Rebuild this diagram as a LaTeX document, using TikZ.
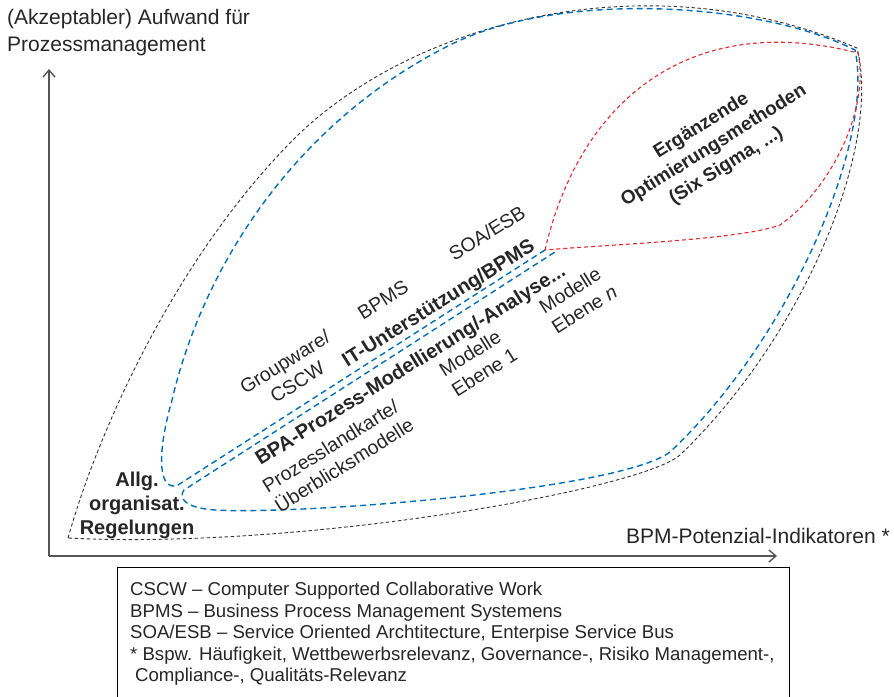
\documentclass[tikz,border=0pt]{standalone}
\usepackage{fontspec}
\setmainfont{Liberation Sans}
\usepackage{tikz}
\usetikzlibrary{arrows.meta}
\definecolor{AxisGray}{RGB}{85,85,85}
\definecolor{LensBlue}{RGB}{0,110,185}
\definecolor{LensRed}{RGB}{232,40,45}

\begin{document}
\begin{tikzpicture}[
        x=1pt, y=1pt,
        % --- STYLE ACHSEN ---
        axis/.style={
            draw=AxisGray,
            line width=1.4pt,
            -{Straight Barb[length=7pt,width=12pt]}
        },
        axislabel/.style={
            font=\fontsize{21}{27}\selectfont,
            inner sep=0pt,
            align=left,
            text=black!85
        },
        % --- STYLE LINSEN ---
        outerlens/.style={draw=black!80, line width=0.9pt, dash pattern=on 3.5pt off 2.5pt},
        bluelens/.style={draw=LensBlue, line width=1.4pt, dash pattern=on 6pt off 4pt},
        redlens/.style={draw=LensRed, line width=1.1pt, dash pattern=on 4pt off 3pt},
        % --- STYLE BESCHRIFTUNG ---
        plain/.style={
            font=\fontsize{19.5}{23.5}\selectfont,
            inner sep=0pt,
            align=center,
            text=black!85
        },
        lbl/.style={plain, rotate=32},
        lblbold/.style={lbl, font=\bfseries\fontsize{20}{24}\selectfont},
        % --- STYLE LEGENDE ---
        legendbox/.style={
            draw=black,
            line width=1pt,
            minimum width=672pt,
            minimum height=131pt,
            anchor=north west,
            inner sep=0pt
        },
        legendtext/.style={
            font=\fontsize{18.6}{21.5}\selectfont,
            align=left,
            inner sep=0pt,
            anchor=north west,
            text=black!85
        }
    ]

        \useasboundingbox (0,0) rectangle (894,-696);

        % --- ACHSEN ---
        \coordinate (origin) at (49,-556);
        \coordinate (ytip) at (49,-69);
        \coordinate (xtip) at (777,-556);
        \draw[axis] (origin) -- (ytip);
        \draw[axis] (origin) -- (xtip);

        \node[axislabel, anchor=north west] (ylabel) at (7,-9)
            {(Akzeptabler) Aufwand für\\Prozessmanagement};
        \node[axislabel, anchor=east] (xlabel) at (890,-536)
            {BPM-Potenzial-Indikatoren *};

        % --- AEUSSERE LINSE (schwarz) ---
        \draw[outerlens] (68,-538) .. controls (100,-425) and (180,-250) .. (300,-133)
            .. controls (420,-20) and (650,40) .. (857,-48)
            .. controls (882,-145) and (805,-335) .. (680,-455)
            .. controls (640,-490) and (300,-550) .. (68,-538) -- cycle;

        % --- BLAUE LINSE MIT DOPPELLINIE ---
        \draw[bluelens] (545,-250) -- (178,-485)
            .. controls (160,-492) and (155,-460) .. (172,-400)
            .. controls (205,-260) and (300,-120) .. (450,-45)
            .. controls (560,10) and (760,-2) .. (855,-50)
            .. controls (875,-140) and (790,-340) .. (670,-452)
            .. controls (620,-490) and (300,-515) .. (215,-510)
            .. controls (185,-508) and (178,-498) .. (184,-490)
            -- (555,-252);

        % --- ROTE LINSE ---
        \draw[redlens] (545,-250) .. controls (580,-100) and (690,-10) .. (858,-53)
            .. controls (870,-110) and (830,-190) .. (780,-225)
            .. controls (740,-240) and (600,-245) .. (545,-250) -- cycle;

        % --- BESCHRIFTUNG ---
        \node[plain, font=\bfseries\fontsize{20}{24}\selectfont] (allg) at (137,-505)
            {Allg.\\organisat.\\Regelungen};
        \node[lbl] (groupware) at (291,-372) {Groupware/\\CSCW};
        \node[lbl] (bpms) at (383,-300) {BPMS};
        \node[lbl] (soa) at (487,-233) {SOA/ESB};
        \node[lblbold] (itsupport) at (439,-304) {IT-Unterstützung/BPMS};
        \node[lblbold] (bpa) at (411,-366) {BPA-Prozess-Modellierung/-Analyse...};
        \node[lbl, align=left] (landkarte) at (338,-455) {Prozesslandkarte/\\Überblicksmodelle};
        \node[lbl, align=left] (ebeneone) at (478,-362) {Modelle\\Ebene 1};
        \node[lbl, align=left] (ebenen) at (578,-299) {Modelle\\Ebene \textit{n}};
        \node[lblbold, font=\bfseries\fontsize{19}{23.5}\selectfont] (sixsigma) at (714,-146)
            {Ergänzende\\Optimierungsmethoden\\(Six Sigma, ...)};

        % --- LEGENDE ---
        \node[legendbox] (legend) at (117,-567) {};
        \node[legendtext] (legendlines) at (130,-582)
            {CSCW – Computer Supported Collaborative Work\\
             BPMS – Business Process Management Systemens\\
             SOA/ESB – Service Oriented Archtitecture, Enterpise Service Bus\\
             * Bspw. Häufigkeit, Wettbewerbsrelevanz, Governance-, Risiko Management-,\\
             \hspace*{5pt}Compliance-, Qualitäts-Relevanz};

    \end{tikzpicture}
\end{document}
